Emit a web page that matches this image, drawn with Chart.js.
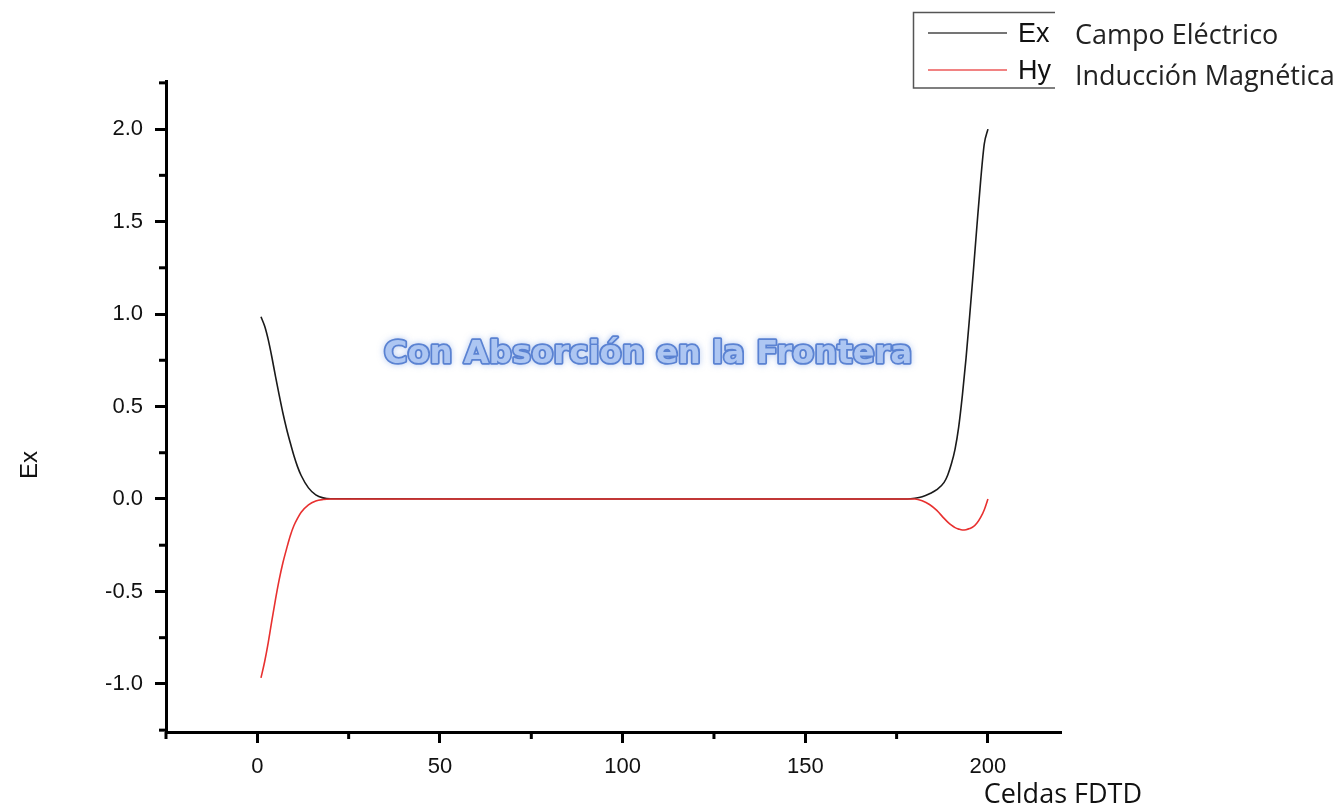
<!DOCTYPE html>
<html>
<head>
<meta charset="utf-8">
<script src="https://cdn.jsdelivr.net/npm/chart.js@4.4.0/dist/chart.umd.min.js"></script>
<style>
  html, body { margin: 0; padding: 0; background: #fff; }
  #wrap { width: 1340px; height: 809px; position: relative; }
</style>
</head>
<body>
<div id="wrap"><canvas id="fdtdChart"></canvas></div>
<script>
// celdas FDTD (x) y valores
let cells = [1, 2, 3, 4, 5, 6, 7, 8, 9, 10, 11, 12, 14, 16, 18, 20, 60, 100, 140,
    178, 180, 182, 184, 186, 188, 189, 190, 191, 192, 193, 194, 195, 196, 197, 198, 199, 200];
let exValues = [0.985, 0.935, 0.86, 0.765, 0.66, 0.56, 0.465, 0.38, 0.305, 0.235, 0.175, 0.127,
    0.06, 0.022, 0.006, 0.001, 0, 0, 0,
    0, 0.004, 0.012, 0.028, 0.05, 0.09, 0.13, 0.19, 0.27, 0.39, 0.56, 0.76, 0.99, 1.23, 1.48, 1.72, 1.92, 2.0];
let hyValues = [-0.967, -0.88, -0.775, -0.655, -0.54, -0.435, -0.345, -0.27, -0.2, -0.145, -0.105, -0.072,
    -0.032, -0.011, -0.003, 0, 0, 0, 0,
    0, 0, -0.01, -0.03, -0.062, -0.105, -0.125, -0.142, -0.155, -0.163, -0.168, -0.166, -0.16, -0.15, -0.13, -0.1, -0.058, 0];

let xMajorTicks = [0, 50, 100, 150, 200];
let xMinorTicks = [-25, 25, 75, 125, 175];
let yMajorTicks = [-1, -0.5, 0, 0.5, 1, 1.5, 2];
let yMinorTicks = [-1.25, -0.75, -0.25, 0.25, 0.75, 1.25, 1.75, 2.25];

let seriesNames = ['Ex', 'Hy'];
let seriesNotes = ['Campo Eléctrico', 'Inducción Magnética'];
let chartTitle = 'Con Absorción en la Frontera';
let xTitle = 'Celdas FDTD';
let yTitle = 'Ex';

let exColor = '#1a1a1a';
let hyColor = '#e8302f';

let extras = {
    id: 'extras',
    afterDraw(chart) {
        let c = chart.ctx;
        let xs = chart.scales.x;
        let ys = chart.scales.y;
        let area = chart.chartArea;

        // minor ticks
        c.save();
        c.strokeStyle = '#000';
        c.lineWidth = 3;
        xMinorTicks.forEach(v => {
            let px = xs.getPixelForValue(v);
            c.beginPath();
            c.moveTo(px, area.bottom);
            c.lineTo(px, area.bottom + 7);
            c.stroke();
        });
        yMinorTicks.forEach(v => {
            let py = ys.getPixelForValue(v);
            c.beginPath();
            c.moveTo(area.left, py);
            c.lineTo(area.left - 7, py);
            c.stroke();
        });
        c.restore();

        // notes font sized like the reference
        let noteSize = 20;
        c.font = noteSize + 'px "Open Sans"';
        noteSize = noteSize * 260 / c.measureText(seriesNotes[1]).width;
        let noteFont = noteSize.toFixed(1) + 'px "Open Sans"';

        // axis titles
        c.save();
        c.fillStyle = '#111';
        c.font = noteFont;
        c.textBaseline = 'middle';
        c.textAlign = 'right';
        c.fillText(xTitle, 1142, 795);
        c.translate(30, 465);
        c.rotate(-Math.PI / 2);
        c.textAlign = 'center';
        c.font = '24px "Liberation Sans"';
        c.fillText(yTitle, 0, 0);
        c.restore();

        // wordart title
        c.save();
        let size = 30;
        c.font = 'bold ' + size + 'px "DejaVu Sans"';
        let w = c.measureText(chartTitle).width;
        size = size * 529 / w;
        c.font = 'bold ' + size.toFixed(1) + 'px "DejaVu Sans"';
        c.textAlign = 'center';
        c.textBaseline = 'middle';
        c.shadowColor = 'rgba(110,150,225,0.55)';
        c.shadowBlur = 6;
        c.lineJoin = 'round';
        c.strokeStyle = '#5a82d2';
        c.lineWidth = 3.5;
        c.strokeText(chartTitle, 648, 355);
        c.shadowBlur = 0;
        c.fillStyle = '#adc6f2';
        c.fillText(chartTitle, 648, 355);
        c.restore();

        // legend box (cut at the right)
        c.save();
        c.beginPath();
        c.rect(0, 0, 1055, 809);
        c.clip();
        c.strokeStyle = '#555';
        c.lineWidth = 1.5;
        c.beginPath();
        c.moveTo(1055, 12.5);
        c.lineTo(913.5, 12.5);
        c.lineTo(913.5, 88);
        c.lineTo(1055, 88);
        c.stroke();
        [[exColor, 33], [hyColor, 70]].forEach(([col, y], i) => {
            c.strokeStyle = col;
            c.globalAlpha = 0.8;
            c.beginPath();
            c.moveTo(928, y);
            c.lineTo(1007, y);
            c.stroke();
            c.globalAlpha = 1;
            c.fillStyle = '#111';
            c.font = '27px "Liberation Sans"';
            c.textBaseline = 'middle';
            c.fillText(seriesNames[i], 1018, y + 2);
        });
        c.restore();

        c.save();
        c.fillStyle = '#222';
        c.font = noteFont;
        c.textBaseline = 'middle';
        c.fillText(seriesNotes[0], 1075, 36);
        c.fillText(seriesNotes[1], 1075, 77);
        c.restore();
    }
};

let ctx = document.getElementById('fdtdChart').getContext('2d');

let fdtdChart = new Chart(ctx, {
    type: 'line',
    data: {
        datasets: [{
            label: seriesNames[0],
            data: cells.map((x, i) => ({ x: x, y: exValues[i] })),
            borderColor: exColor,
            borderWidth: 1.6,
            pointRadius: 0,
            cubicInterpolationMode: 'monotone',
            order: 2,
        }, {
            label: seriesNames[1],
            data: cells.map((x, i) => ({ x: x, y: hyValues[i] })),
            borderColor: hyColor,
            borderWidth: 1.6,
            pointRadius: 0,
            cubicInterpolationMode: 'monotone',
            order: 1,
        }]
    },
    options: {
        responsive: true,
        maintainAspectRatio: false,
        animation: false,
        layout: {
            padding: { left: 0, top: 81, right: 279, bottom: 0 }
        },
        plugins: {
            legend: { display: false },
            tooltip: { enabled: false },
        },
        scales: {
            x: {
                type: 'linear',
                min: -25,
                max: 220,
                afterBuildTicks: scale => { scale.ticks = xMajorTicks.map(v => ({ value: v })); },
                afterFit: scale => { scale.height = 77; },
                ticks: {
                    color: '#111',
                    padding: 11,
                    maxRotation: 0,
                    font: { family: '"Liberation Sans"', size: 22 },
                },
                border: { display: true, color: '#000', width: 3 },
                grid: {
                    drawOnChartArea: false,
                    drawTicks: true,
                    tickLength: 11,
                    tickColor: '#000',
                    tickWidth: 3,
                }
            },
            y: {
                type: 'linear',
                min: -1.26,
                max: 2.26,
                afterBuildTicks: scale => { scale.ticks = yMajorTicks.map(v => ({ value: v })); },
                afterFit: scale => { scale.width = 166; },
                ticks: {
                    color: '#111',
                    padding: 12,
                    callback: v => v.toFixed(1),
                    font: { family: '"Liberation Sans"', size: 22 },
                },
                border: { display: true, color: '#000', width: 3 },
                grid: {
                    drawOnChartArea: false,
                    drawTicks: true,
                    tickLength: 11,
                    tickColor: '#000',
                    tickWidth: 3,
                }
            }
        }
    },
    plugins: [extras]
});
</script>
</body>
</html>
